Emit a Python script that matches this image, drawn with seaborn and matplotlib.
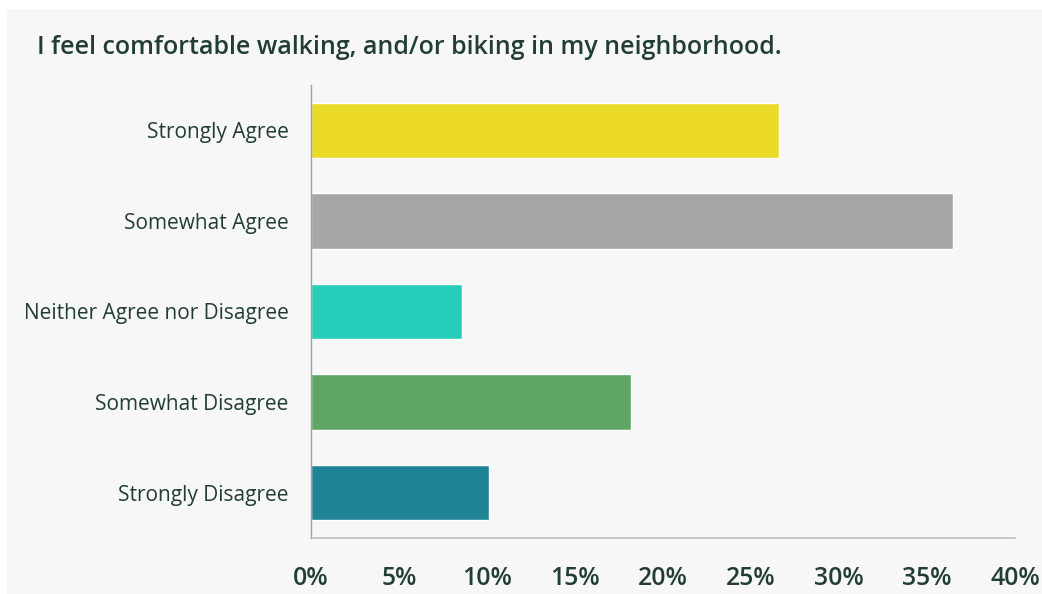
import matplotlib
matplotlib.use("Agg")
import matplotlib.pyplot as plt
import seaborn as sns
import pandas as pd
from matplotlib.patches import Rectangle
from matplotlib.ticker import FuncFormatter

categories = ["Strongly Agree", "Somewhat Agree", "Neither Agree nor Disagree",
              "Somewhat Disagree", "Strongly Disagree"]
values = [26.6, 36.5, 8.6, 18.2, 10.1]
colors = ["#ebdb28", "#a6a6a6", "#26cdb8", "#5fa664", "#1e8496"]
xticks = [0, 5, 10, 15, 20, 25, 30, 35, 40]
title = "I feel comfortable walking, and/or biking in my neighborhood."

df = pd.DataFrame({"category": categories, "value": values})

sns.set_theme(style="white")
plt.rcParams["font.family"] = ["Open Sans", "DejaVu Sans"]

txt = "#213d35"
fig = plt.figure(figsize=(10.42, 5.94), dpi=100, facecolor="white")
fig.patches.append(Rectangle((7 / 1042, 0), 1 - 7 / 1042, 1 - 9 / 594,
                             transform=fig.transFigure, facecolor="#f7f7f7",
                             edgecolor="none", zorder=-10))
ax = fig.add_axes([311 / 1042, 1 - 538 / 594, (1015 - 311) / 1042, (538 - 85) / 594])
ax.set_facecolor("none")

sns.barplot(data=df, x="value", y="category", hue="category", order=categories,
            palette=colors, orient="h", width=0.61, legend=False, ax=ax,
            saturation=1)

ax.set_xlim(0, 40)
ax.set_ylim(4.5, -0.5)
ax.set_xticks(xticks)
ax.xaxis.set_major_formatter(FuncFormatter(lambda v, p: f"{v:.0f}%"))
ax.set_xlabel("")
ax.set_ylabel("")
for s in ["top", "right"]:
    ax.spines[s].set_visible(False)
ax.spines["left"].set_color("#a0a0a0")
ax.spines["bottom"].set_color("#bfbfbf")
ax.spines["left"].set_linewidth(1.0)
ax.spines["bottom"].set_linewidth(1.2)
ax.tick_params(axis="x", direction="out", length=7, width=1.2, color="#bfbfbf",
               labelsize=17.8, labelcolor=txt, pad=13)
ax.tick_params(axis="y", length=0, labelsize=15, labelcolor=txt, pad=16)
for lab in ax.get_xticklabels():
    lab.set_fontweight("semibold")

fig.text(37 / 1042, 1 - 47 / 594, title, fontsize=18, fontweight="semibold",
         color=txt, ha="left", va="center")

fig.savefig("out.png", dpi=100, facecolor="white")
